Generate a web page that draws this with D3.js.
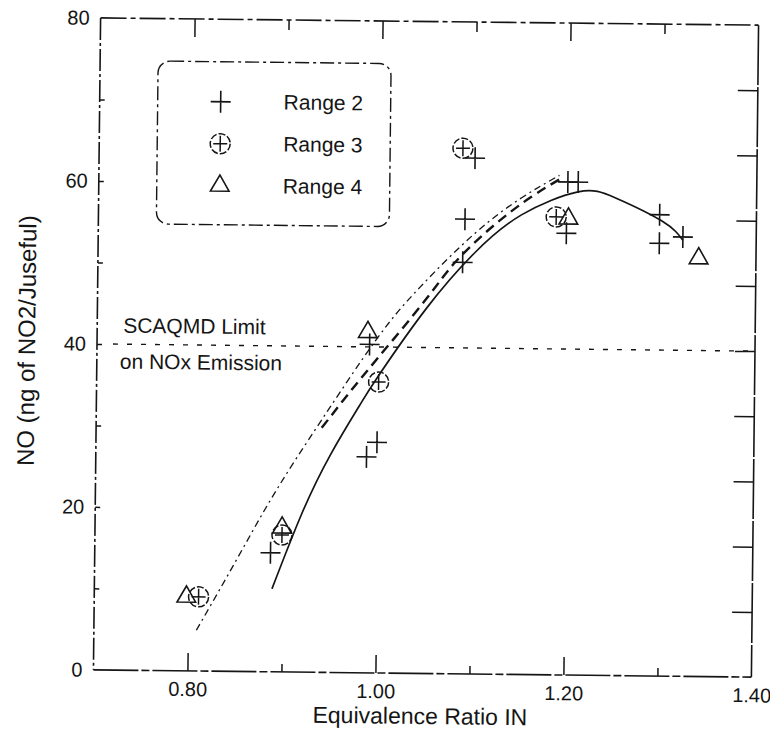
<!DOCTYPE html>
<html>
<head>
<meta charset="utf-8">
<script src="https://cdn.jsdelivr.net/npm/d3@7"></script>
<style>
  html, body { margin: 0; background: #fff; }
  svg { display: block; font-family: 'Liberation Sans', Arial, sans-serif; }
</style>
</head>
<body>
<div class="viz"></div>
<script>
/* globals d3 */
// NO emission against equivalence ratio, three burner ranges
const range2X = [0.887, 0.988, 0.999, 0.99, 1.088, 1.09, 1.10, 1.198, 1.199, 1.21, 1.297, 1.297, 1.322];
const range2Y = [14.6, 26.5, 28.3, 40.3, 50.5, 55.8, 63.3, 54.2, 60.5, 60.5, 56.6, 53.1, 53.9];
const range3X = [0.811, 0.899, 1.0, 1.087, 1.187];
const range3Y = [9.1, 16.8, 35.7, 64.5, 56.2];
const range4X = [0.798, 0.899, 0.988, 1.20, 1.339];
const range4Y = [9.1, 17.7, 41.8, 56.0, 51.3];

// fitted curves
const solidX = [0.889, 0.92, 0.95, 0.98, 1.0, 1.05, 1.1, 1.15, 1.21, 1.25, 1.3, 1.322];
const solidY = [10.2, 19.5, 26.8, 32.8, 36.5, 44.8, 51.6, 56.4, 59.3, 58.6, 55.8, 53.5];
const dashDotX = [0.809, 0.85, 0.891, 0.94, 0.997, 1.043, 1.1, 1.15, 1.19];
const dashDotY = [5.0, 13.5, 22.0, 31.0, 40.9, 47.4, 54.0, 58.5, 61.3];
const dashedX = [0.94, 0.97, 1.0, 1.05, 1.08, 1.12, 1.16, 1.19];
const dashedY = [30.0, 34.5, 38.8, 46.0, 50.5, 55.0, 58.6, 60.8];

const limitValue = 40;
const xTickLabels = [0.8, 1.0, 1.2, 1.4];
const yTickLabels = [0, 20, 40, 60, 80];
const xMajorTicks = [0.8, 1.0, 1.2];
const xMinorTicks = [0.9, 1.1, 1.3];
const yLeftTicks = [10, 20, 30, 40, 50, 60, 70];
const yRightTicks = [8, 16, 24, 32, 40, 48, 56, 64, 72];
const legendLabels = ['Range 2', 'Range 3', 'Range 4'];

const width = 770;
const height = 732;
// plot frame (before the slight scan tilt)
const frame = { left: 97, right: 755, top: 21.5, bottom: 673.5 };

const xScale = d3.scaleLinear().domain([0.7, 1.4]).range([frame.left, frame.right]);
const yScale = d3.scaleLinear().domain([0, 80]).range([frame.bottom, frame.top]);

const svg = d3.select('.viz')
  .append('svg')
  .attr('width', width)
  .attr('height', height)
  .attr('viewBox', `0 0 ${width} ${height}`);

// the scanned page is tilted a little clockwise
const chart = svg.append('g')
  .attr('transform', 'rotate(0.63 426 347)');

const ink = '#151515';

// frame, each side with its own scan-like stroke
const sides = [
  [frame.left, frame.top, frame.left, frame.bottom, '22,3,3,3'],
  [frame.left, frame.top, frame.right, frame.top, '26,4,5,4'],
  [frame.right, frame.top, frame.right, frame.bottom, '60,2'],
  [frame.left, frame.bottom, frame.right, frame.bottom, '45,3,8,3'],
];
chart.append('g')
  .selectAll('line')
  .data(sides)
  .join('line')
  .attr('x1', d => d[0])
  .attr('y1', d => d[1])
  .attr('x2', d => d[2])
  .attr('y2', d => d[3])
  .attr('stroke', ink)
  .attr('stroke-width', 1.6)
  .attr('stroke-dasharray', d => d[4]);

// inward tick marks
function ticks(axis, transform, values, size) {
  const g = chart.append('g')
    .attr('transform', transform)
    .call(axis.tickValues(values).tickSize(size).tickFormat(''));
  g.select('.domain').remove();
  g.selectAll('line').attr('stroke', ink).attr('stroke-width', 1.5);
}
ticks(d3.axisTop(xScale), `translate(0 ${frame.bottom})`, xMajorTicks, 18);
ticks(d3.axisTop(xScale), `translate(0 ${frame.bottom})`, xMinorTicks, 8);
ticks(d3.axisBottom(xScale), `translate(0 ${frame.top})`, xMajorTicks, 18);
ticks(d3.axisBottom(xScale), `translate(0 ${frame.top})`, xMinorTicks, 10);
ticks(d3.axisRight(yScale), `translate(${frame.left} 0)`, yLeftTicks, 5);
ticks(d3.axisLeft(yScale), `translate(${frame.right} 0)`, yRightTicks, 20);

// tick labels
const xAxis = chart.append('g')
  .attr('transform', `translate(0 ${frame.bottom})`)
  .call(d3.axisBottom(xScale).tickValues(xTickLabels).tickFormat(d3.format('.2f')).tickSize(0).tickPadding(11));
const yAxis = chart.append('g')
  .attr('transform', `translate(${frame.left} 0)`)
  .call(d3.axisLeft(yScale).tickValues(yTickLabels).tickSize(0).tickPadding(11));
[xAxis, yAxis].forEach(axis => {
  axis.select('.domain').remove();
  axis.selectAll('text')
    .attr('font-size', 20)
    .attr('font-family', "'Liberation Sans', Arial, sans-serif")
    .attr('fill', ink);
});

// axis titles
chart.append('text')
  .attr('x', 424)
  .attr('y', 724)
  .attr('text-anchor', 'middle')
  .attr('font-size', 23)
  .attr('fill', ink)
  .text('Equivalence Ratio IN');

chart.append('text')
  .attr('transform', 'translate(35 345) rotate(-90)')
  .attr('text-anchor', 'middle')
  .attr('font-size', 24)
  .attr('fill', ink)
  .text('NO (ng of NO2/Juseful)');

// SCAQMD limit line and note
chart.append('line')
  .attr('x1', xScale(0.717))
  .attr('x2', frame.right)
  .attr('y1', yScale(limitValue))
  .attr('y2', yScale(limitValue))
  .attr('stroke', ink)
  .attr('stroke-width', 1.4)
  .attr('stroke-dasharray', '5,9');

chart.append('text')
  .attr('x', 123)
  .attr('y', 336)
  .attr('font-size', 21)
  .attr('fill', ink)
  .text('SCAQMD Limit');
chart.append('text')
  .attr('x', 120)
  .attr('y', 372)
  .attr('font-size', 21)
  .attr('fill', ink)
  .text('on NOx Emission');

// fitted curves
const line = d3.line()
  .x(d => xScale(d[0]))
  .y(d => yScale(d[1]))
  .curve(d3.curveNatural);

const curves = [
  { xs: solidX, ys: solidY, dash: null, w: 1.7 },
  { xs: dashDotX, ys: dashDotY, dash: '7,4,2,4', w: 1.3 },
  { xs: dashedX, ys: dashedY, dash: '10,6', w: 2.4 },
];
curves.forEach(({ xs, ys, dash, w }) => {
  chart.append('path')
    .attr('d', line(xs.map((x, i) => [x, ys[i]])))
    .attr('fill', 'none')
    .attr('stroke', ink)
    .attr('stroke-width', w)
    .attr('stroke-dasharray', dash);
});

// markers
const crossPath = 'M-10,0H10M0,-11V11';
const smallCross = 'M-7,0H7M0,-8V8';
const trianglePath = d3.symbol().type(d3.symbolTriangle).size(150)();

function drawCross(g) {
  g.append('path').attr('d', crossPath).attr('stroke', ink).attr('stroke-width', 1.6).attr('fill', 'none');
}
function drawCircle(g) {
  g.append('circle').attr('r', 10).attr('fill', 'none').attr('stroke', ink).attr('stroke-width', 1.5).attr('stroke-dasharray', '7,2');
  g.append('path').attr('d', smallCross).attr('stroke', ink).attr('stroke-width', 1.5).attr('fill', 'none');
}
function drawTriangle(g) {
  g.append('path').attr('d', trianglePath).attr('fill', 'none').attr('stroke', ink).attr('stroke-width', 1.6);
}

const series = [
  { xs: range2X, ys: range2Y, draw: drawCross },
  { xs: range3X, ys: range3Y, draw: drawCircle },
  { xs: range4X, ys: range4Y, draw: drawTriangle },
];
series.forEach(({ xs, ys, draw }) => {
  xs.forEach((x, i) => {
    const g = chart.append('g').attr('transform', `translate(${xScale(x)} ${yScale(ys[i])})`);
    draw(g);
  });
});

// legend
const legend = chart.append('g');
legend.append('rect')
  .attr('x', 155)
  .attr('y', 64)
  .attr('width', 233)
  .attr('height', 163)
  .attr('rx', 12)
  .attr('fill', 'none')
  .attr('stroke', ink)
  .attr('stroke-width', 1.4)
  .attr('stroke-dasharray', '14,4,3,4');

legendLabels.forEach((label, i) => {
  const cy = 104 + i * 42;
  const g = legend.append('g').attr('transform', `translate(218 ${cy})`);
  series[i].draw(g);
  legend.append('text')
    .attr('x', 281)
    .attr('y', cy + 7)
    .attr('font-size', 21)
    .attr('fill', ink)
    .text(label);
});
</script>
</body>
</html>
